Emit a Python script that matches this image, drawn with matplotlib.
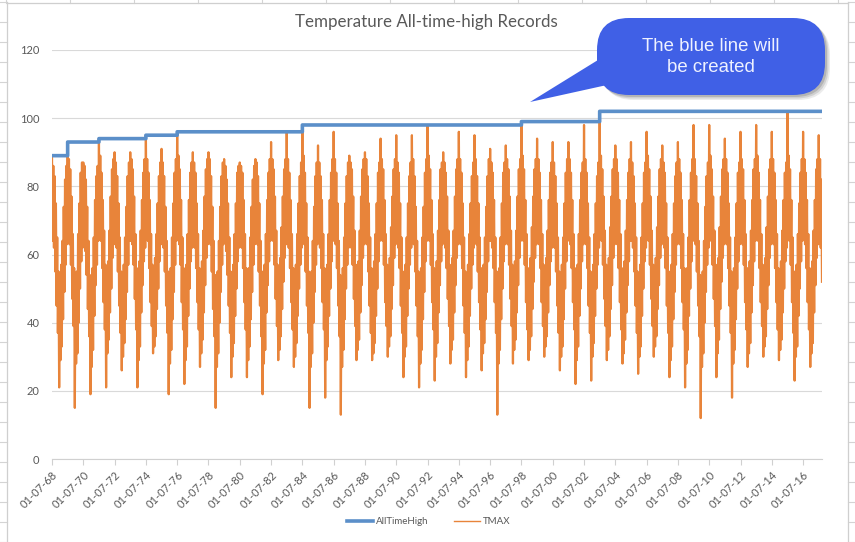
import numpy as np
import matplotlib
matplotlib.use('Agg')
import matplotlib.pyplot as plt
from matplotlib.patches import FancyBboxPatch, Polygon

plt.rcParams['font.family'] = ['Lato', 'DejaVu Sans']

# daily max temperature thinned to a warm and a cool reading per month,
# one row per season (Jul..Jun), starting 01-07-68
tmax = [
    89, 64, 86, 62, 83, 55, 75, 45, 65, 37, 55, 21, 52, 29, 57, 33, 64, 41, 74, 49, 82, 57, 86, 63,   # 1968
    93, 66, 88, 63, 85, 57, 77, 47, 66, 39, 56, 15, 53, 28, 55, 31, 66, 40, 75, 50, 84, 58, 87, 62,   # 1969
    87, 63, 86, 61, 82, 54, 74, 44, 64, 36, 54, 19, 51, 27, 56, 32, 65, 42, 76, 51, 83, 57, 86, 64,   # 1970
    94, 67, 89, 64, 84, 56, 76, 46, 67, 38, 57, 21, 55, 31, 58, 35, 67, 43, 77, 50, 85, 59, 88, 63,   # 1971
    90, 65, 87, 62, 83, 55, 75, 45, 65, 37, 55, 26, 53, 30, 57, 34, 65, 41, 74, 49, 83, 57, 87, 64,   # 1972
    90, 64, 88, 63, 85, 57, 77, 47, 66, 38, 56, 21, 54, 29, 58, 33, 67, 43, 76, 51, 84, 58, 88, 62,   # 1973
    95, 66, 88, 64, 84, 56, 76, 46, 66, 39, 57, 31, 56, 33, 59, 36, 66, 44, 75, 50, 83, 58, 87, 63,   # 1974
    91, 65, 87, 62, 83, 55, 74, 45, 64, 37, 55, 19, 52, 28, 56, 32, 65, 41, 75, 49, 84, 57, 88, 64,   # 1975
    96, 66, 89, 63, 85, 57, 76, 46, 65, 38, 56, 22, 53, 29, 57, 33, 66, 42, 76, 50, 84, 58, 87, 62,   # 1976
    90, 64, 87, 62, 84, 56, 75, 46, 66, 38, 56, 27, 55, 31, 58, 35, 67, 43, 77, 51, 85, 59, 88, 63,   # 1977
    90, 65, 88, 63, 83, 55, 74, 44, 64, 36, 54, 15, 51, 27, 55, 31, 64, 40, 74, 49, 83, 57, 87, 63,   # 1978
    88, 64, 86, 61, 82, 54, 75, 45, 65, 37, 55, 24, 53, 30, 57, 34, 66, 42, 75, 50, 84, 58, 86, 62,   # 1979
    87, 63, 86, 62, 84, 56, 76, 46, 66, 38, 56, 24, 52, 29, 56, 33, 65, 41, 74, 49, 82, 57, 86, 63,   # 1980
    88, 65, 87, 63, 83, 55, 75, 45, 64, 36, 55, 19, 54, 28, 57, 32, 66, 43, 76, 51, 84, 58, 88, 64,   # 1981
    93, 66, 88, 64, 85, 57, 77, 47, 67, 39, 57, 29, 56, 32, 59, 36, 68, 44, 77, 52, 85, 59, 88, 63,   # 1982
    96, 65, 88, 62, 84, 56, 76, 46, 66, 38, 56, 27, 53, 30, 57, 34, 66, 42, 75, 50, 83, 57, 87, 62,   # 1983
    98, 66, 89, 63, 84, 55, 75, 45, 65, 37, 55, 15, 52, 27, 55, 31, 64, 40, 74, 49, 83, 57, 87, 63,   # 1984
    92, 64, 87, 62, 83, 56, 76, 46, 66, 38, 56, 18, 53, 29, 57, 33, 66, 42, 76, 50, 84, 58, 88, 64,   # 1985
    96, 65, 88, 63, 84, 56, 75, 45, 64, 36, 54, 13, 51, 27, 56, 32, 65, 41, 75, 50, 83, 57, 87, 62,   # 1986
    89, 64, 87, 62, 85, 57, 77, 47, 67, 39, 57, 29, 55, 32, 58, 35, 67, 43, 77, 51, 85, 59, 88, 63,   # 1987
    90, 65, 88, 63, 83, 55, 75, 45, 65, 37, 56, 29, 54, 31, 58, 34, 66, 42, 75, 50, 84, 58, 87, 64,   # 1988
    94, 66, 88, 64, 85, 57, 76, 46, 66, 39, 57, 30, 56, 33, 59, 36, 68, 44, 77, 51, 85, 59, 88, 63,   # 1989
    95, 65, 87, 62, 84, 56, 75, 45, 65, 37, 55, 24, 53, 30, 57, 33, 65, 42, 75, 50, 83, 57, 87, 62,   # 1990
    95, 64, 88, 63, 83, 55, 74, 45, 64, 36, 55, 21, 52, 28, 56, 32, 65, 41, 74, 49, 84, 58, 88, 64,   # 1991
    98, 66, 89, 64, 85, 57, 76, 46, 66, 38, 56, 23, 54, 30, 58, 34, 67, 43, 76, 51, 85, 58, 87, 63,   # 1992
    90, 64, 87, 62, 84, 56, 77, 47, 67, 39, 57, 28, 55, 32, 59, 35, 67, 43, 77, 51, 85, 59, 88, 63,   # 1993
    96, 65, 88, 63, 84, 56, 75, 45, 65, 37, 55, 24, 53, 29, 57, 33, 66, 42, 75, 50, 83, 57, 87, 62,   # 1994
    95, 66, 88, 63, 83, 55, 75, 46, 65, 38, 56, 26, 54, 31, 57, 34, 65, 41, 74, 49, 83, 58, 88, 64,   # 1995
    91, 64, 87, 62, 84, 56, 76, 46, 65, 37, 55, 13, 52, 28, 56, 32, 65, 41, 75, 50, 84, 58, 87, 63,   # 1996
    92, 65, 88, 63, 85, 57, 77, 47, 67, 39, 57, 28, 55, 32, 58, 35, 67, 43, 77, 51, 85, 59, 88, 64,   # 1997
    99, 66, 89, 64, 85, 57, 76, 46, 66, 38, 56, 29, 55, 32, 59, 36, 68, 44, 77, 52, 85, 59, 88, 63,   # 1998
    94, 65, 88, 63, 84, 56, 76, 46, 66, 39, 57, 30, 56, 33, 59, 36, 67, 43, 76, 51, 84, 58, 87, 62,   # 1999
    93, 64, 87, 62, 83, 55, 75, 45, 65, 37, 55, 26, 53, 30, 57, 33, 65, 41, 75, 50, 84, 58, 88, 64,   # 2000
    93, 65, 88, 63, 84, 56, 76, 46, 66, 38, 56, 22, 53, 29, 57, 33, 66, 42, 76, 50, 84, 58, 87, 63,   # 2001
    98, 66, 88, 63, 84, 56, 75, 45, 65, 37, 55, 23, 53, 30, 57, 34, 66, 42, 75, 50, 83, 57, 87, 62,   # 2002
    102, 66, 89, 64, 85, 57, 77, 47, 67, 39, 57, 29, 55, 32, 59, 36, 68, 44, 77, 51, 85, 59, 88, 63,  # 2003
    92, 65, 88, 63, 84, 56, 76, 46, 66, 38, 56, 28, 55, 31, 58, 35, 67, 43, 76, 51, 84, 58, 88, 64,   # 2004
    93, 64, 87, 62, 83, 55, 75, 45, 65, 37, 55, 25, 53, 30, 57, 33, 65, 42, 75, 50, 84, 58, 87, 62,   # 2005
    96, 66, 89, 64, 85, 57, 77, 47, 67, 39, 57, 30, 56, 33, 59, 36, 68, 44, 77, 51, 85, 59, 88, 63,   # 2006
    92, 64, 87, 62, 84, 56, 75, 45, 65, 37, 55, 24, 53, 29, 57, 33, 66, 41, 75, 49, 83, 57, 87, 63,   # 2007
    93, 65, 88, 63, 84, 56, 76, 46, 66, 38, 56, 21, 52, 28, 56, 32, 65, 42, 76, 50, 84, 58, 88, 64,   # 2008
    98, 66, 88, 63, 83, 55, 75, 45, 64, 36, 54, 12, 51, 27, 55, 31, 64, 40, 74, 49, 83, 57, 87, 62,   # 2009
    98, 65, 89, 64, 85, 57, 77, 47, 67, 39, 57, 24, 55, 31, 59, 35, 68, 44, 77, 52, 85, 59, 88, 63,   # 2010
    94, 64, 88, 63, 84, 56, 75, 45, 65, 37, 55, 18, 52, 28, 56, 32, 65, 41, 75, 50, 84, 58, 87, 63,   # 2011
    96, 65, 88, 63, 85, 57, 76, 46, 66, 38, 56, 27, 54, 31, 58, 34, 67, 43, 76, 51, 85, 58, 88, 64,   # 2012
    98, 66, 89, 64, 84, 56, 76, 46, 66, 39, 57, 30, 56, 33, 59, 36, 68, 44, 77, 51, 85, 59, 88, 63,   # 2013
    96, 65, 88, 63, 84, 56, 76, 46, 66, 38, 56, 29, 55, 32, 58, 35, 67, 43, 76, 50, 84, 58, 87, 62,   # 2014
    102, 66, 89, 64, 85, 57, 76, 46, 65, 37, 55, 23, 53, 30, 57, 33, 66, 42, 75, 50, 84, 58, 88, 64,  # 2015
    96, 65, 88, 63, 84, 56, 76, 46, 66, 38, 56, 27, 54, 31, 58, 34, 67, 43, 76, 51, 85, 59, 88, 63,   # 2016
    95, 65, 88, 62, 82, 52,                                                                          # 2017
]
first_year = 1968.5   # 01-07-68
per_year = 24

tick_years = list(range(1968, 2017, 2))
tick_labels = ['01-07-%02d' % (y % 100) for y in tick_years]

x = first_year + np.arange(len(tmax)) / per_year
all_time_high = np.maximum.accumulate(tmax)

fig = plt.figure(figsize=(8.55, 5.42), dpi=100)

# spreadsheet cells behind the chart object
bg = fig.add_axes([0, 0, 1, 1], zorder=-5)
bg.set_xlim(0, 855)
bg.set_ylim(542, 0)
bg.axis('off')
for yy in np.arange(1.7, 542, 20):
    bg.plot([0, 7], [yy, yy], color='#d4d4d4', lw=0.8)
    bg.plot([848, 855], [yy, yy], color='#d4d4d4', lw=0.8)
for xx in np.arange(6, 855, 64):
    bg.plot([xx, xx], [0, 3], color='#d4d4d4', lw=0.8)
bg.plot([7, 7], [2, 542], color='#cfcfcf', lw=0.9)
bg.plot([848, 848], [2, 542], color='#cfcfcf', lw=0.9)
bg.plot([7, 848], [2.5, 2.5], color='#cfcfcf', lw=0.9)

ax = fig.add_axes([52 / 855, 1 - 459 / 542, 770 / 855, 409 / 542])
l2, = ax.plot(x, tmax, color='#E8843A', lw=1.6, label='TMAX', zorder=2)
l1, = ax.plot(x, all_time_high, color='#5B8FC9', lw=2.6, drawstyle='steps-post',
              label='AllTimeHigh', zorder=3)

ax.set_xlim(x[0], x[-1])
ax.set_ylim(0, 120)
ax.set_yticks(range(0, 121, 20))
ax.grid(axis='y', color='#d9d9d9', lw=0.8)
ax.set_axisbelow(True)
for s in ['top', 'right', 'left']:
    ax.spines[s].set_visible(False)
ax.spines['bottom'].set_color('#d0d0d0')
ax.tick_params(axis='y', length=0, pad=9, labelcolor='#595959', labelsize=8)
ax.tick_params(axis='x', length=4, color='#d0d0d0', labelcolor='#595959', labelsize=8)
ax.set_xticks([y + 0.5 for y in tick_years])
ax.set_xticklabels(tick_labels, rotation=45, ha='right', va='top', rotation_mode='anchor')

fig.text(426 / 855, 1 - 22 / 542, 'Temperature All-time-high Records', ha='center', va='center',
         fontsize=12.2, color='#595959')

leg_l1 = plt.Line2D([], [], color='#5B8FC9', lw=2.6)
leg_l2 = plt.Line2D([], [], color='#E8843A', lw=1.0)
fig.legend([leg_l1, leg_l2], ['AllTimeHigh', 'TMAX'], loc='center',
           bbox_to_anchor=(429 / 855, 1 - 522 / 542), ncol=2, frameon=False, fontsize=7,
           handlelength=2.7, handletextpad=0.3, columnspacing=2.6, labelcolor='#595959')

# callout bubble
ov = fig.add_axes([0, 0, 1, 1], zorder=10)
ov.set_xlim(0, 855)
ov.set_ylim(542, 0)
ov.axis('off')
ov.patch.set_alpha(0)
for d, a in [(5, 0.10), (3.5, 0.15), (2, 0.2)]:
    ov.add_patch(FancyBboxPatch((597 + d, 18 + d), 228, 77, boxstyle='round,pad=0,rounding_size=32',
                                fc='#404040', ec='none', alpha=a))
ov.add_patch(Polygon([(598, 60), (607, 85), (530, 102)], closed=True, fc='#4060E6', ec='none'))
ov.add_patch(FancyBboxPatch((597, 18), 228, 77, boxstyle='round,pad=0,rounding_size=32',
                            fc='#4060E6', ec='none'))
ov.text(711, 57, 'The blue line will\nbe created', ha='center', va='center', color='#EEF1FF',
        fontsize=13.4, family=['Liberation Sans', 'DejaVu Sans'], linespacing=1.3)

fig.savefig('out.png', dpi=100)
